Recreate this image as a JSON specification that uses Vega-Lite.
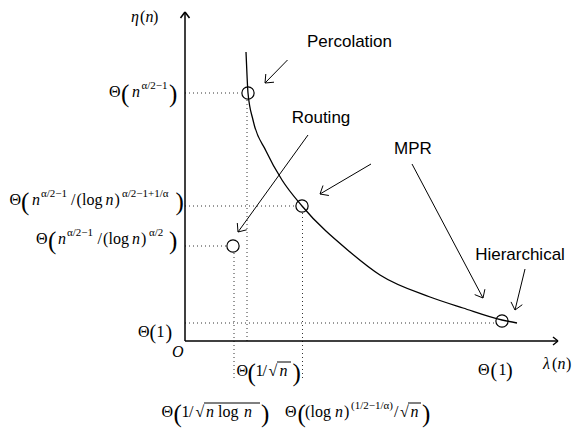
{
  "$schema": "https://vega.github.io/schema/vega-lite/v6.json",
  "width": 576,
  "height": 430,
  "autosize": {"type": "fit", "contains": "padding"},
  "padding": 0,
  "background": "white",
  "config": {"view": {"stroke": null}},
  "datasets": {
    "seg": [
      {"x": 0, "y": 24.8, "x2": 5.6, "y2": 24.8, "g": "dot"},
      {"x": 0, "y": 13.5, "x2": 11.0, "y2": 13.5, "g": "dot"},
      {"x": 0, "y": 9.5, "x2": 4.1, "y2": 9.5, "g": "dot"},
      {"x": 0, "y": 1.8, "x2": 31.0, "y2": 1.8, "g": "dot"},
      {"x": 6.2, "y": 24.1, "x2": 6.2, "y2": -0.3, "g": "dot"},
      {"x": 4.9, "y": 8.8, "x2": 4.9, "y2": -3.9, "g": "dot"},
      {"x": 11.75, "y": 12.8, "x2": 11.75, "y2": -3.9, "g": "dot"},
      {"x": 0, "y": 0, "x2": 0, "y2": 32.9, "g": "axis"},
      {"x": 0, "y": 0, "x2": 37.3, "y2": 0, "g": "axis"},
      {"x": 0, "y": 32.9, "x2": -0.45, "y2": 32.3, "g": "axis"},
      {"x": 0, "y": 32.9, "x2": 0.45, "y2": 32.3, "g": "axis"},
      {"x": 37.3, "y": 0, "x2": 36.8, "y2": 0.4, "g": "axis"},
      {"x": 37.3, "y": 0, "x2": 36.8, "y2": -0.4, "g": "axis"},
      {"x": 10.25, "y": 28.1, "x2": 8.0, "y2": 25.8, "g": "arrow"},
      {"x": 8.0, "y": 25.8, "x2": 8.9, "y2": 25.88, "g": "arrow"},
      {"x": 8.0, "y": 25.8, "x2": 8.08, "y2": 26.7, "g": "arrow"},
      {"x": 12.3, "y": 20.6, "x2": 5.3, "y2": 10.9, "g": "arrow"},
      {"x": 5.3, "y": 10.9, "x2": 6.17, "y2": 11.12, "g": "arrow"},
      {"x": 5.3, "y": 10.9, "x2": 5.23, "y2": 11.8, "g": "arrow"},
      {"x": 18.6, "y": 17.7, "x2": 13.5, "y2": 14.7, "g": "arrow"},
      {"x": 13.5, "y": 14.7, "x2": 14.39, "y2": 14.55, "g": "arrow"},
      {"x": 13.5, "y": 14.7, "x2": 13.8, "y2": 15.55, "g": "arrow"},
      {"x": 22.7, "y": 17.7, "x2": 29.8, "y2": 4.3, "g": "arrow"},
      {"x": 29.8, "y": 4.3, "x2": 29.99, "y2": 5.18, "g": "arrow"},
      {"x": 29.8, "y": 4.3, "x2": 28.97, "y2": 4.64, "g": "arrow"},
      {"x": 34.0, "y": 7.2, "x2": 33.0, "y2": 3.1, "g": "arrow"},
      {"x": 33.0, "y": 3.1, "x2": 33.73, "y2": 3.63, "g": "arrow"},
      {"x": 33.0, "y": 3.1, "x2": 32.6, "y2": 3.91, "g": "arrow"},
      {"x": 9.2, "y": -2.1, "x2": 10.6, "y2": -2.1, "g": "bar"},
      {"x": 1.9, "y": -6.2, "x2": 7.5, "y2": -6.2, "g": "bar"},
      {"x": 22.3, "y": -6.2, "x2": 23.6, "y2": -6.2, "g": "bar"}
    ],
    "curve": [
      {"x": 6.1, "y": 28.9},
      {"x": 6.2, "y": 26.6},
      {"x": 6.3, "y": 24.8},
      {"x": 6.8, "y": 22.1},
      {"x": 8.1, "y": 19.0},
      {"x": 9.7, "y": 16.1},
      {"x": 11.7, "y": 13.5},
      {"x": 16.5, "y": 8.9},
      {"x": 19.5, "y": 6.6},
      {"x": 24.5, "y": 4.4},
      {"x": 27.8, "y": 3.3},
      {"x": 31.7, "y": 2.1},
      {"x": 33.2, "y": 1.8}
    ],
    "pts": [
      {"x": 6.3, "y": 24.8, "name": "Percolation"},
      {"x": 11.7, "y": 13.5, "name": "MPR"},
      {"x": 4.8, "y": 9.5, "name": "Routing"},
      {"x": 31.7, "y": 2.0, "name": "Hierarchical"}
    ],
    "txt": [
      {"x": -7.6, "y": 24.45, "t": "Θ", "k": "m"},
      {"x": -6.4, "y": 24.45, "t": "(", "k": "P"},
      {"x": -5.3, "y": 24.45, "t": "n", "k": "i"},
      {"x": -4.35, "y": 24.45, "t": "α/2−1", "k": "s"},
      {"x": -1.6, "y": 24.45, "t": ")", "k": "P"},

      {"x": -17.55, "y": 13.6, "t": "Θ", "k": "m"},
      {"x": -16.4, "y": 13.6, "t": "(", "k": "P"},
      {"x": -15.3, "y": 13.6, "t": "n", "k": "i"},
      {"x": -14.4, "y": 13.6, "t": "α/2−1", "k": "s"},
      {"x": -11.4, "y": 13.6, "t": "/", "k": "m"},
      {"x": -10.85, "y": 13.6, "t": "(", "k": "m"},
      {"x": -10.3, "y": 13.6, "t": "log", "k": "m"},
      {"x": -7.95, "y": 13.6, "t": "n", "k": "i"},
      {"x": -7.05, "y": 13.6, "t": ")", "k": "m"},
      {"x": -6.3, "y": 13.6, "t": "α/2−1+1/α", "k": "s"},
      {"x": -0.95, "y": 13.6, "t": ")", "k": "P"},

      {"x": -14.9, "y": 9.7, "t": "Θ", "k": "m"},
      {"x": -13.7, "y": 9.7, "t": "(", "k": "P"},
      {"x": -12.7, "y": 9.7, "t": "n", "k": "i"},
      {"x": -11.8, "y": 9.7, "t": "α/2−1", "k": "s"},
      {"x": -8.75, "y": 9.7, "t": "/", "k": "m"},
      {"x": -8.2, "y": 9.7, "t": "(", "k": "m"},
      {"x": -7.65, "y": 9.7, "t": "log", "k": "m"},
      {"x": -5.3, "y": 9.7, "t": "n", "k": "i"},
      {"x": -4.4, "y": 9.7, "t": ")", "k": "m"},
      {"x": -3.6, "y": 9.7, "t": "α/2", "k": "s"},
      {"x": -1.6, "y": 9.7, "t": ")", "k": "P"},

      {"x": -4.7, "y": 0.45, "t": "Θ", "k": "m"},
      {"x": -3.55, "y": 0.45, "t": "(", "k": "p"},
      {"x": -2.85, "y": 0.45, "t": "1", "k": "m"},
      {"x": -1.95, "y": 0.45, "t": ")", "k": "p"},

      {"x": 5.15, "y": -3.5, "t": "Θ", "k": "m"},
      {"x": 6.25, "y": -3.5, "t": "(", "k": "P"},
      {"x": 7.05, "y": -3.5, "t": "1", "k": "m"},
      {"x": 7.75, "y": -3.5, "t": "/", "k": "m"},
      {"x": 8.35, "y": -3.5, "t": "√", "k": "m"},
      {"x": 9.45, "y": -3.5, "t": "n", "k": "i"},
      {"x": 10.75, "y": -3.5, "t": ")", "k": "P"},

      {"x": 29.3, "y": -3.4, "t": "Θ", "k": "m"},
      {"x": 30.55, "y": -3.4, "t": "(", "k": "p"},
      {"x": 31.35, "y": -3.4, "t": "1", "k": "m"},
      {"x": 32.1, "y": -3.4, "t": ")", "k": "p"},

      {"x": -2.35, "y": -7.6, "t": "Θ", "k": "m"},
      {"x": -1.15, "y": -7.6, "t": "(", "k": "P"},
      {"x": -0.35, "y": -7.6, "t": "1", "k": "m"},
      {"x": 0.4, "y": -7.6, "t": "/", "k": "m"},
      {"x": 1.05, "y": -7.6, "t": "√", "k": "m"},
      {"x": 2.1, "y": -7.6, "t": "n", "k": "i"},
      {"x": 3.3, "y": -7.6, "t": "log", "k": "m"},
      {"x": 5.9, "y": -7.6, "t": "n", "k": "i"},
      {"x": 7.6, "y": -7.6, "t": ")", "k": "P"},

      {"x": 10.0, "y": -7.6, "t": "Θ", "k": "m"},
      {"x": 11.25, "y": -7.6, "t": "(", "k": "P"},
      {"x": 12.0, "y": -7.6, "t": "(", "k": "m"},
      {"x": 12.55, "y": -7.6, "t": "log", "k": "m"},
      {"x": 15.0, "y": -7.6, "t": "n", "k": "i"},
      {"x": 15.9, "y": -7.6, "t": ")", "k": "m"},
      {"x": 16.6, "y": -7.6, "t": "(1/2−1/α)", "k": "s"},
      {"x": 20.9, "y": -7.6, "t": "/", "k": "m"},
      {"x": 21.5, "y": -7.6, "t": "√", "k": "m"},
      {"x": 22.55, "y": -7.6, "t": "n", "k": "i"},
      {"x": 23.7, "y": -7.6, "t": ")", "k": "P"},

      {"x": -5.4, "y": 31.9, "t": "η", "k": "i"},
      {"x": -4.5, "y": 31.9, "t": "(", "k": "m"},
      {"x": -3.95, "y": 31.9, "t": "n", "k": "i"},
      {"x": -3.2, "y": 31.9, "t": ")", "k": "m"},

      {"x": 35.8, "y": -2.8, "t": "λ", "k": "i"},
      {"x": 36.7, "y": -2.8, "t": "(", "k": "m"},
      {"x": 37.25, "y": -2.8, "t": "n", "k": "i"},
      {"x": 38.1, "y": -2.8, "t": ")", "k": "m"},

      {"x": -1.3, "y": -1.6, "t": "O", "k": "i"},

      {"x": 16.45, "y": 29.45, "t": "Percolation", "k": "L"},
      {"x": 13.6, "y": 21.8, "t": "Routing", "k": "L"},
      {"x": 22.8, "y": 18.7, "t": "MPR", "k": "L"},
      {"x": 33.5, "y": 8.1, "t": "Hierarchical", "k": "L"}
    ]
  },
  "encoding": {
    "x": {"field": "x", "type": "quantitative", "scale": {"domain": [-18.5, 39.1], "nice": false, "zero": false}, "axis": null},
    "y": {"field": "y", "type": "quantitative", "scale": {"domain": [-8.9, 34.1], "nice": false, "zero": false}, "axis": null}
  },
  "layer": [
    {
      "data": {"name": "seg"},
      "transform": [{"filter": "datum.g === 'dot'"}],
      "mark": {"type": "rule", "stroke": "#333333", "strokeWidth": 1, "strokeDash": [1, 3]},
      "encoding": {"x2": {"field": "x2"}, "y2": {"field": "y2"}}
    },
    {
      "data": {"name": "seg"},
      "transform": [{"filter": "datum.g === 'axis'"}],
      "mark": {"type": "rule", "stroke": "black", "strokeWidth": 1.5},
      "encoding": {"x2": {"field": "x2"}, "y2": {"field": "y2"}}
    },
    {
      "data": {"name": "seg"},
      "transform": [{"filter": "datum.g === 'arrow' || datum.g === 'bar'"}],
      "mark": {"type": "rule", "stroke": "black", "strokeWidth": 1},
      "encoding": {"x2": {"field": "x2"}, "y2": {"field": "y2"}}
    },
    {
      "data": {"name": "curve"},
      "mark": {"type": "line", "stroke": "black", "strokeWidth": 1.3, "interpolate": "monotone"},
      "encoding": {}
    },
    {
      "data": {"name": "pts"},
      "mark": {"type": "point", "shape": "circle", "filled": false, "size": 150, "stroke": "black", "strokeWidth": 1.2, "opacity": 1},
      "encoding": {}
    },
    {
      "data": {"name": "txt"},
      "transform": [{"filter": "datum.k === 'm'"}],
      "mark": {"type": "text", "align": "left", "baseline": "alphabetic", "font": "Liberation Serif", "fontSize": 16, "color": "black"},
      "encoding": {"text": {"field": "t"}}
    },
    {
      "data": {"name": "txt"},
      "transform": [{"filter": "datum.k === 'i'"}],
      "mark": {"type": "text", "align": "left", "baseline": "alphabetic", "font": "Liberation Serif", "fontStyle": "italic", "fontSize": 16, "color": "black"},
      "encoding": {"text": {"field": "t"}}
    },
    {
      "data": {"name": "txt"},
      "transform": [{"filter": "datum.k === 's'"}],
      "mark": {"type": "text", "align": "left", "baseline": "alphabetic", "dy": -8, "font": "Liberation Serif", "fontSize": 11, "color": "black"},
      "encoding": {"text": {"field": "t"}}
    },
    {
      "data": {"name": "txt"},
      "transform": [{"filter": "datum.k === 'P'"}],
      "mark": {"type": "text", "align": "left", "baseline": "alphabetic", "dy": 5, "font": "Liberation Serif", "fontSize": 25, "color": "black"},
      "encoding": {"text": {"field": "t"}}
    },
    {
      "data": {"name": "txt"},
      "transform": [{"filter": "datum.k === 'p'"}],
      "mark": {"type": "text", "align": "left", "baseline": "alphabetic", "dy": 2, "font": "Liberation Serif", "fontSize": 20, "color": "black"},
      "encoding": {"text": {"field": "t"}}
    },
    {
      "data": {"name": "txt"},
      "transform": [{"filter": "datum.k === 'L'"}],
      "mark": {"type": "text", "align": "center", "baseline": "alphabetic", "font": "Liberation Sans", "fontSize": 17, "color": "black"},
      "encoding": {"text": {"field": "t"}}
    }
  ]
}
